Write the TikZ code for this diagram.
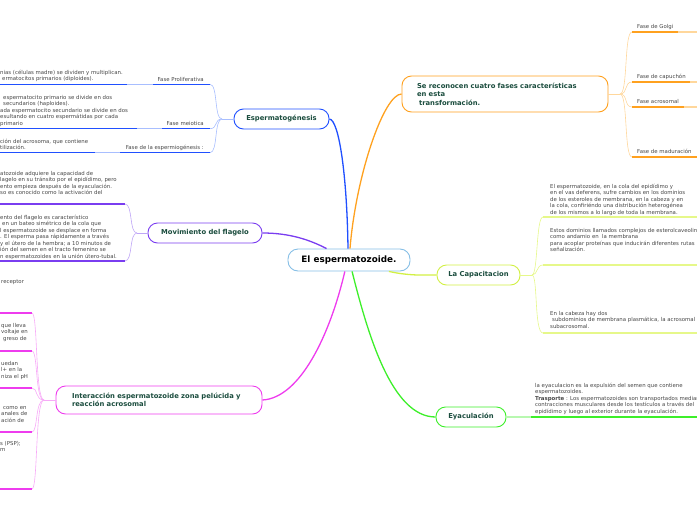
\documentclass[tikz,border=0pt]{standalone}
\usepackage{fontspec}
\setmainfont{DejaVu Sans}
\usetikzlibrary{positioning}
\definecolor{rootblue}{HTML}{86BFE6}
\definecolor{blueb}{HTML}{2050FF}
\definecolor{bluel}{HTML}{A8BEFF}
\definecolor{violetb}{HTML}{7A3DF0}
\definecolor{violetl}{HTML}{BFA6F6}
\definecolor{magentab}{HTML}{EE3CEE}
\definecolor{magental}{HTML}{F7AAF7}
\definecolor{orangeb}{HTML}{FFA11F}
\definecolor{orangel}{HTML}{FFD79C}
\definecolor{limeb}{HTML}{D2F044}
\definecolor{limel}{HTML}{E6F88A}
\definecolor{greenb}{HTML}{3DEF2A}
\definecolor{greenl}{HTML}{B8F8B0}
\definecolor{topictext}{HTML}{1B4D3E}
\definecolor{leafgray}{HTML}{474747}

\begin{document}
\begin{tikzpicture}[x=1pt, y=-1pt,
  root/.style={draw=rootblue, line width=0.9pt, rounded corners=10pt, fill=white,
    minimum width=122pt, minimum height=22pt, inner sep=0,
    font=\fontsize{8.8}{10}\selectfont\bfseries},
  topic/.style={draw=#1, line width=0.9pt, rounded corners=9.5pt, fill=white,
    minimum height=20pt, inner sep=0, text=topictext,
    font=\fontsize{6.8}{8.4}\selectfont\bfseries},
  phase/.style={font=\fontsize{5.4}{6.5}\selectfont, text=leafgray, inner sep=0},
  leaf/.style={font=\fontsize{5.4}{6.5}\selectfont, text=leafgray, inner sep=0,
    align=left, anchor=base west},
  branch/.style={line width=1.3pt},
  twig/.style={line width=0.6pt},
  ruleline/.style={line width=1.2pt}]

\useasboundingbox (0,0) rectangle (697,520);
\clip (0,0) rectangle (697,520);

% centre
\node[root] (root) at (349,260) {El espermatozoide.};

% topics
\node[topic=blueb, minimum width=95pt] (esp) at (281.5,119) {Espermatogénesis};
\node[topic=violetb, minimum width=114pt] (flag) at (205,233) {Movimiento del flagelo};
\node[topic=magentab, minimum width=206pt, minimum height=28pt, text width=174pt, align=left] (zona) at (159,400)
  {Interacción espermatozoide zona pelúcida y\\reacción acrosomal};
\node[topic=orangeb, minimum width=206pt, minimum height=36pt, text width=176pt, align=left] (fases) at (505,94)
  {Se reconocen cuatro fases características\\en esta\\\hspace*{2pt}transformación.};
\node[topic=limeb, minimum width=83pt] (capa) at (478.5,275) {La Capacitacion};
\node[topic=greenb, minimum width=70pt] (eya) at (471,417) {Eyaculación};

% main branches
\draw[branch, blueb] (esp.east) .. controls (339,120) and (347,175) .. (root.95);
\draw[branch, orangeb] (fases.west) .. controls (384,94) and (356,175) .. (root.85);
\draw[branch, violetb] (flag.east) .. controls (290,233) and (310,240) .. (root.153);
\draw[branch, magentab] (root.250) .. controls (330,335) and (300,398) .. (zona.east);
\draw[branch, greenb] (root.285) .. controls (368,335) and (392,417) .. (eya.west);
\draw[branch, limeb] (root.344) .. controls (410,276) and (424,275) .. (capa.west);

% Espermatogenesis (leaf nodes sit on the baseline of their last line)
\coordinate (espJ) at (222,119);
\node[phase, anchor=base east] (pro) at (204,81) {Fase Proliferativa};
\node[phase, anchor=base east] (mei) at (204,125) {Fase meiotica};
\node[phase, anchor=base east] (emg) at (204,149) {Fase de la espermiogénesis :};
\coordinate (proA) at (210,84.3);  \coordinate (proB) at (153,84.3);
\coordinate (proC) at (127,84.3);  \coordinate (proD) at (0,84.3);
\coordinate (meiA) at (210,128.7); \coordinate (meiB) at (162,128.7);
\coordinate (meiC) at (137,128.7); \coordinate (meiD) at (0,128.7);
\coordinate (emgA) at (210,152.7); \coordinate (emgB) at (120,152.7);
\coordinate (emgC) at (95,152.7);  \coordinate (emgD) at (0,152.7);
\node[leaf] (proT) at (0,80.5) {nias (células madre) se dividen y multiplican.\\\hspace*{2pt}ermatocitos primarios (diploides).};
\node[leaf] (meiT) at (0,125) {\hspace*{3pt}espermatocito primario se divide en dos\\\hspace*{3pt}secundarios (haploides).\\ada espermatocito secundario se divide en dos\\esultando en cuatro espermátidas por cada\\primario};
\node[leaf] (emgT) at (0,149.5) {ción del acrosoma, que contiene\\tilización.};
\draw[twig, bluel] (esp.west) -- (espJ);
\draw[twig, bluel] (espJ) .. controls (214,119) and (218,84.3) .. (proA);
\draw[twig, bluel] (espJ) .. controls (214,119) and (218,128.7) .. (meiA);
\draw[twig, bluel] (espJ) .. controls (214,119) and (218,152.7) .. (emgA);
\draw[ruleline, blueb] (proA) -- (proB);
\draw[ruleline, bluel] (proB) -- (proC);
\draw[ruleline, blueb] (proC) -- (proD);
\draw[ruleline, blueb] (meiA) -- (meiB);
\draw[ruleline, bluel] (meiB) -- (meiC);
\draw[ruleline, blueb] (meiC) -- (meiD);
\draw[ruleline, blueb] (emgA) -- (emgB);
\draw[ruleline, bluel] (emgB) -- (emgC);
\draw[ruleline, blueb] (emgC) -- (emgD);

% Movimiento del flagelo
\coordinate (flagJ) at (137,233);
\coordinate (flaA) at (125,204); \coordinate (flaD) at (0,204);
\coordinate (flbA) at (125,261); \coordinate (flbD) at (0,261);
\node[leaf] (flaT) at (0,194.5) {atozoide adquiere la capacidad de\\lagelo en su tránsito por el epidídimo, pero\\ento empieza después de la eyaculación.\\so es conocido como la activación del};
\node[leaf] (flbT) at (0,258) {ento del flagelo es característico\\\hspace*{2pt}en un bateo simétrico de la cola que\\l espermatozoide se desplace en forma\\. El esperma pasa rápidamente a través\\y el útero de la hembra; a 10 minutos de\\ión del semen en el tracto femenino se\\n espermatozoides en la unión útero-tubal.};
\draw[twig, violetl] (flag.west) -- (flagJ);
\draw[twig, violetl] (flagJ) .. controls (129,233) and (133,204) .. (flaA);
\draw[twig, violetl] (flagJ) .. controls (129,233) and (133,261) .. (flbA);
\draw[ruleline, violetb] (flaA) -- (flaD);
\draw[ruleline, violetb] (flbA) -- (flbD);

% Interaccion
\coordinate (zonaJ) at (44,400);
\coordinate (zaA) at (32,313); \coordinate (zaD) at (0,313);
\coordinate (zbA) at (32,351); \coordinate (zbD) at (0,351);
\coordinate (zcA) at (32,388); \coordinate (zcD) at (0,388);
\coordinate (zdA) at (32,432); \coordinate (zdD) at (0,432);
\coordinate (zeA) at (32,489); \coordinate (zeD) at (0,489);
\node[leaf] (zaT) at (1,283) {receptor};
\node[leaf] (zbT) at (1,340) {que lleva\\voltaje en\\\hspace*{2pt}greso de};
\node[leaf] (zcT) at (1,378) {uedan\\l+ en la\\niza el pH};
\node[leaf] (zdT) at (1,422) {\hspace*{2pt}como en\\anales de\\ación de};
\node[leaf] (zeT) at (0,451.5) {s (PSP);\\m};
\draw[twig, magental] (zona.west) -- (zonaJ);
\draw[twig, magental] (zonaJ) .. controls (35,400) and (38,313) .. (zaA);
\draw[twig, magental] (zonaJ) .. controls (35,400) and (38,351) .. (zbA);
\draw[twig, magental] (zonaJ) .. controls (35,400) and (38,388) .. (zcA);
\draw[twig, magental] (zonaJ) .. controls (35,400) and (38,432) .. (zdA);
\draw[twig, magental] (zonaJ) .. controls (35,400) and (38,489) .. (zeA);
\draw[ruleline, magentab] (zaA) -- (zaD);
\draw[ruleline, magentab] (zbA) -- (zbD);
\draw[ruleline, magentab] (zcA) -- (zcD);
\draw[ruleline, magentab] (zdA) -- (zdD);
\draw[ruleline, magentab] (zeA) -- (zeD);

% cuatro fases
\coordinate (fasJ) at (620,94);
\node[phase, anchor=base west] (gol) at (637,28) {Fase de Golgi};
\node[phase, anchor=base west] (cap) at (637,78) {Fase de capuchón};
\node[phase, anchor=base west] (acr) at (637,103) {Fase acrosomal};
\node[phase, anchor=base west] (mad) at (637,153) {Fase de maduración};
\coordinate (golA) at (632,32);  \coordinate (golB) at (678,32);  \coordinate (golC) at (697,32);
\coordinate (capA) at (632,82);  \coordinate (capB) at (690,82);  \coordinate (capC) at (697,82);
\coordinate (acrA) at (632,107); \coordinate (acrB) at (684,107); \coordinate (acrC) at (697,107);
\coordinate (madA) at (632,157); \coordinate (madC) at (697,157);
\draw[twig, orangel] (fases.east) -- (fasJ);
\draw[twig, orangel] (fasJ) .. controls (628,94) and (624,32) .. (golA);
\draw[twig, orangel] (fasJ) .. controls (628,94) and (624,82) .. (capA);
\draw[twig, orangel] (fasJ) .. controls (628,94) and (624,107) .. (acrA);
\draw[twig, orangel] (fasJ) .. controls (628,94) and (624,157) .. (madA);
\draw[ruleline, orangeb] (golA) -- (golB);
\draw[ruleline, orangel] (golB) -- (golC);
\draw[ruleline, orangeb] (capA) -- (capB);
\draw[ruleline, orangel] (capB) -- (capC);
\draw[ruleline, orangeb] (acrA) -- (acrB);
\draw[ruleline, orangel] (acrB) -- (acrC);
\draw[ruleline, orangeb] (madA) -- (madC);

% Capacitacion
\coordinate (capaJ) at (532,275);
\coordinate (cpaA) at (543,217); \coordinate (cpaB) at (697,217);
\coordinate (cpbA) at (543,265); \coordinate (cpbB) at (697,265);
\coordinate (cpcA) at (543,333); \coordinate (cpcB) at (697,333);
\node[leaf] (cpaT) at (550,214) {El espermatozoide, en la cola del epidídimo y\\en el vas deferens, sufre cambios en los dominios\\de los esteroles de membrana, en la cabeza y en\\la cola, confiriéndo una distribución heterogénea\\de los mismos a lo largo de toda la membrana.};
\node[leaf] (cpbT) at (550,251.5) {Estos dominios llamados complejos de esterolcaveolin\\como andamio en \ la membrana\\para acoplar proteínas que inducirán diferentes rutas\\señalización.};
\node[leaf] (cpcT) at (550,328) {En la cabeza hay dos\\\hspace*{2pt}subdominios de membrana plasmática, la acrosomal\\subacrosomal.};
\draw[twig, limel] (capa.east) -- (capaJ);
\draw[twig, limel] (capaJ) .. controls (538,275) and (536,217) .. (cpaA);
\draw[twig, limel] (capaJ) .. controls (538,275) and (536,265) .. (cpbA);
\draw[twig, limel] (capaJ) .. controls (538,275) and (534,333) .. (cpcA);
\draw[ruleline, limel] (cpaA) -- (cpaB);
\draw[ruleline, limel] (cpbA) -- (cpbB);
\draw[ruleline, limel] (cpcA) -- (cpcB);

% Eyaculacion
\coordinate (eyaA) at (531,417); \coordinate (eyaB) at (697,417);
\node[leaf] (eyaT) at (535,413) {la eyaculacion es la expulsión del semen que contiene\\espermatozoides.\\\textbf{Trasporte} : Los espermatozoides son transportados mediar\\contracciones musculares desde los testículos a través del\\epidídimo y luego al exterior durante la eyaculación.};
\draw[ruleline, greenl] (eya.east) -- (eyaA);
\draw[ruleline, greenb] (eyaA) -- (eyaB);

\end{tikzpicture}
\end{document}
